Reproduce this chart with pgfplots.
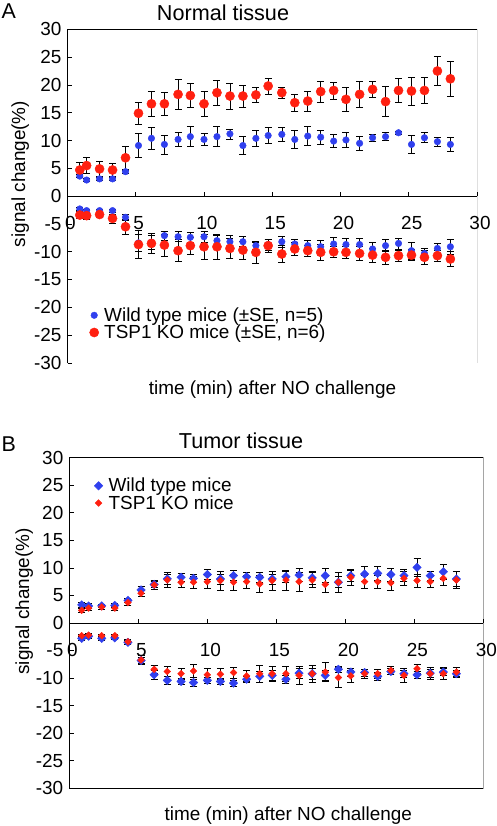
\documentclass[border=0pt]{standalone}
\usepackage{fontspec}
\setmainfont{Liberation Sans}
\usepackage{pgfplots}
\pgfplotsset{compat=1.18}
\usepackage{pgfplotstable}
\definecolor{wtblue}{RGB}{48,64,238}
\definecolor{kored}{RGB}{255,32,16}

% Panel A: normal tissue. x, wild type (pos,err,neg,err), TSP1 KO (pos,err,neg,err)
\pgfplotstableread{
x     wp   wpe  wn    wne  kp   kpe  kn    kne
0.9   3.6  0.3  -2.3  0.3  4.7  1.3  -3.4  0.6
1.4   2.9  0.3  -2.6  0.3  5.5  1.4  -3.5  0.6
2.35  3.1  0.3  -2.6  0.3  4.9  1.3  -3.3  0.5
3.3   3.1  0.3  -2.6  0.3  4.7  1.2  -4.0  0.8
4.25  4.4  0.3  -3.8  0.5  6.9  2.1  -5.5  1.4
5.2   9.1  2.2  -8.4  1.5  14.9 1.9  -8.7  2.5
6.15  10.4 1.9  -8.3  1.3  16.6 2.2  -8.5  1.8
7.1   9.3  1.7  -7.1  0.8  16.6 2.0  -8.8  2.0
8.1   10.2 1.3  -7.3  0.9  18.3 2.7  -9.8  2.0
9.0   10.7 1.8  -7.4  0.9  18.1 2.2  -8.9  1.5
10.0  10.2 1.1  -7.3  1.0  16.6 2.2  -9.1  2.3
10.95 10.7 1.8  -8.0  1.0  18.6 2.3  -9.1  2.3
11.9  11.2 0.9  -8.2  1.1  18.0 2.3  -9.4  1.8
12.85 9.1  1.6  -8.2  0.9  18.0 2.0  -9.7  1.6
13.8  10.4 1.5  -8.9  0.6  18.2 1.4  -10.1 2.0
14.7  10.9 1.4  -8.7  1.0  19.8 1.4  -8.9  1.2
15.7  11.1 1.2  -8.2  1.0  18.6 1.0  -10.4 1.5
16.65 10.2 1.6  -8.6  0.8  16.8 1.6  -9.5  1.2
17.6  10.8 1.7  -8.9  0.9  17.1 1.8  -9.8  1.0
18.55 10.6 1.2  -9.1  1.2  18.8 1.9  -10.1 1.5
19.5  9.9  1.2  -8.6  1.2  19.0 1.5  -10.0 1.0
20.4  10.1 1.3  -8.7  1.1  17.4 2.1  -10.1 1.0
21.4  9.5  1.2  -8.7  1.2  18.3 2.3  -10.3 1.3
22.35 10.5 0.6  -9.5  1.2  19.2 1.5  -10.6 1.3
23.3  10.7 0.7  -8.9  1.1  17.0 2.7  -11.0 1.2
24.25 11.4 0.2  -8.5  1.0  19.0 2.2  -10.7 1.0
25.2  9.3  1.6  -9.8  1.5  18.9 2.5  -10.6 1.0
26.15 10.5 0.9  -10.3 1.0  19.0 2.3  -11.0 1.2
27.1  9.8  0.8  -9.4  1.0  22.5 2.6  -10.7 1.0
28.05 9.3  1.3  -9.1  1.4  21.1 3.1  -11.3 1.3
}\tabA

% Panel B: tumor tissue
\pgfplotstableread{
x     wp   wpe  wn    wne  kp   kpe  kn    kne
0.9   3.3  0.4  -2.8  0.3  2.3  0.3  -2.3  0.3
1.4   3.1  0.4  -2.4  0.3  2.7  0.4  -2.2  0.3
2.35  3.1  0.3  -2.8  0.4  2.9  0.4  -2.3  0.3
3.3   3.2  0.4  -2.7  0.3  2.7  0.4  -2.3  0.3
4.25  4.1  0.4  -3.5  0.3  3.7  0.4  -3.4  0.4
5.2   6.0  0.6  -6.8  0.6  5.4  0.5  -6.7  0.8
6.15  7.0  0.6  -9.4  0.9  6.9  0.8  -8.4  0.7
7.1   8.0  0.9  -10.4 0.7  7.8  1.4  -8.8  0.9
8.1   8.3  0.8  -10.6 0.6  7.4  0.9  -9.2  1.0
9.0   8.1  0.7  -10.8 0.6  7.4  1.1  -8.7  1.2
10.0  8.8  0.9  -10.4 0.5  7.5  1.2  -9.4  1.1
10.95 8.0  0.9  -10.6 0.5  7.7  1.7  -9.3  1.0
11.9  8.6  0.9  -10.9 0.5  7.4  1.5  -9.0  1.0
12.85 8.4  0.8  -10.2 0.6  7.5  1.2  -9.6  1.0
13.8  8.3  0.9  -9.7  1.0  7.1  1.5  -9.2  1.5
14.7  8.0  0.9  -9.5  0.9  7.7  1.7  -9.2  1.3
15.7  8.4  1.0  -10.2 0.7  7.8  1.8  -9.2  1.4
16.65 8.7  1.2  -9.1  0.9  7.5  1.7  -9.5  1.6
17.6  8.2  1.1  -9.2  1.0  7.8  1.4  -9.2  1.6
18.55 8.6  1.3  -9.5  0.9  7.0  1.4  -8.9  1.7
19.5  7.4  1.0  -8.4  0.6  7.4  1.8  -9.9  1.8
20.4  8.6  1.0  -8.9  0.7  8.3  1.5  -9.6  1.1
21.4  8.9  1.3  -9.0  0.6  7.5  1.2  -9.2  0.8
22.35 9.0  1.3  -9.7  0.7  7.5  1.2  -9.2  0.8
23.3  8.8  1.2  -8.8  0.6  7.3  1.3  -8.6  0.7
24.25 8.6  1.1  -9.2  0.6  8.1  1.3  -9.5  1.2
25.2  10.1 1.7  -9.4  0.7  7.7  1.2  -8.3  0.8
26.15 8.6  0.8  -9.1  0.7  7.5  1.0  -9.2  1.1
27.1  9.3  1.3  -8.9  0.6  8.1  1.3  -9.2  1.1
28.05 8.0  1.3  -9.2  0.6  7.8  1.5  -8.9  0.8
}\tabB

\pgfplotsset{
  myax/.style={
    scale only axis,
    xmin=0, xmax=30, ymin=-30, ymax=30,
    axis x line=middle, axis y line=left,
    axis line style={-, line width=0.8bp, black},
    xtick={0,5,...,30}, ytick={-30,-25,...,30},
    hide obscured x ticks=false,
    xtick align=inside, ytick align=inside,
    major tick length=4.5bp,
    tick style={black, line width=0.7bp},
    tick label style={font=\fontsize{19}{22}\selectfont},
    xticklabel style={yshift=-17bp, xshift=3bp},
    yticklabel style={xshift=-2.5bp},
    /pgf/number format/assume math mode=true,
    legend cell align=left,
    legend style={draw=none, fill=none, font=\fontsize{19}{22}\selectfont,
      row sep=0bp, inner sep=0pt, nodes={inner sep=1bp}},
    legend image code/.code={\path[draw=none, fill=none] (0bp,0bp) -- (9bp,0bp);
      \draw[#1] plot coordinates {(0bp,0bp)};},
    error bars/y dir=both, error bars/y explicit,
    error bars/error bar style={black, line width=0.6bp},
    error bars/error mark options={rotate=90, mark size=3.5bp, black, line width=0.6bp},
  },
  bcirc/.style={only marks, mark=*, mark size=3.3bp, color=wtblue},
  rcirc/.style={only marks, mark=*, mark size=4.6bp, color=kored},
  bdiam/.style={only marks, mark=square*, mark size=3.0bp, mark options={rotate=45}, color=wtblue},
  rdiam/.style={only marks, mark=square*, mark size=2.4bp, mark options={rotate=45}, color=kored},
}

\begin{document}
\begin{tikzpicture}
\useasboundingbox (0,0) rectangle (497bp,826bp);

% ---------------- Panel A ----------------
\begin{axis}[myax, at={(67.5bp,463bp)}, anchor=south west,
  width=409.5bp, height=333.7bp,
  legend style={at={(axis description cs:0.0535,0.065)}, anchor=south west}]
\addplot[bcirc] table[x=x, y=wp, y error=wpe] {\tabA};
\addlegendentry{Wild type mice (±SE, n=5)}
\addplot[rcirc] table[x=x, y=kp, y error=kpe] {\tabA};
\addlegendentry{TSP1 KO mice (±SE, n=6)}
\addplot[bcirc, forget plot] table[x=x, y=wn, y error=wne] {\tabA};
\addplot[rcirc, forget plot] table[x=x, y=kn, y error=kne] {\tabA};
\draw[line width=0.8bp] (rel axis cs:0,0) rectangle (rel axis cs:1,1);
\end{axis}

% ---------------- Panel B ----------------
\begin{axis}[myax, at={(69.3bp,37.7bp)}, anchor=south west,
  width=414bp, height=330.6bp,
  legend style={at={(axis description cs:0.06,0.9416)}, anchor=north west}]
\addplot[bdiam] table[x=x, y=wp, y error=wpe] {\tabB};
\addlegendentry{Wild type mice}
\addplot[rdiam] table[x=x, y=kp, y error=kpe] {\tabB};
\addlegendentry{TSP1 KO mice}
\addplot[bdiam, forget plot] table[x=x, y=wn, y error=wne] {\tabB};
\addplot[rdiam, forget plot] table[x=x, y=kn, y error=kne] {\tabB};
\draw[line width=0.8bp] (rel axis cs:0,0) rectangle (rel axis cs:1,1);
\end{axis}

% ---------------- Labels ----------------
\node[anchor=base west, inner sep=0, font=\fontsize{21.5}{24}\selectfont] at (1.5bp,807.7bp) {A};
\node[anchor=base, inner sep=0, font=\fontsize{21.7}{24}\selectfont] at (223bp,805.3bp) {Normal tissue};
\node[anchor=base, inner sep=0, rotate=90, font=\fontsize{19}{22}\selectfont] at (25bp,652bp) {signal change(\%)};
\node[anchor=base, inner sep=0, font=\fontsize{19}{22}\selectfont] at (272.5bp,431.7bp) {time (min) after NO challenge};

\node[anchor=base west, inner sep=0, font=\fontsize{21.5}{24}\selectfont] at (1.5bp,374.3bp) {B};
\node[anchor=base, inner sep=0, font=\fontsize{21.7}{24}\selectfont] at (241bp,377bp) {Tumor tissue};
\node[anchor=base, inner sep=0, rotate=90, font=\fontsize{19}{22}\selectfont] at (29bp,224.5bp) {signal change(\%)};
\node[anchor=base, inner sep=0, font=\fontsize{19}{22}\selectfont] at (288.3bp,6bp) {time (min) after NO challenge};
\end{tikzpicture}
\end{document}
